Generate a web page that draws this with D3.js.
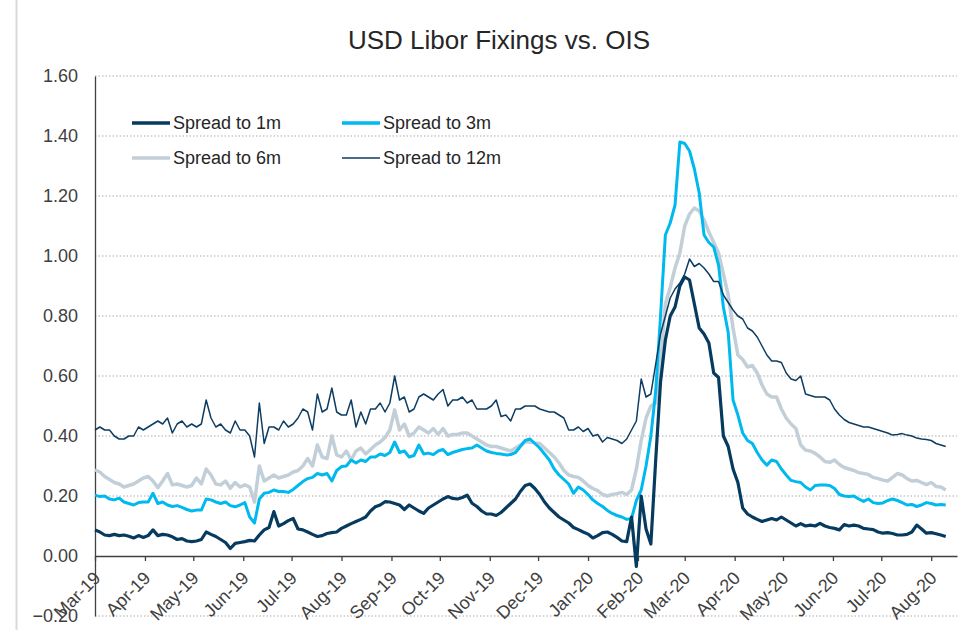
<!DOCTYPE html>
<html>
<head>
<meta charset="utf-8">
<script src="https://cdn.jsdelivr.net/npm/d3@7"></script>
<style>
  body { margin: 0; background: #fff; }
  svg { display: block; font-family: "Liberation Sans", Arial, sans-serif; }
</style>
</head>
<body>
<script>
const width = 967;
const height = 630;

const title = "USD Libor Fixings vs. OIS";
const seriesNames = ["Spread to 1m", "Spread to 3m", "Spread to 6m", "Spread to 12m"];
const yTicks = [-0.2, 0, 0.2, 0.4, 0.6, 0.8, 1.0, 1.2, 1.4, 1.6];

// one fixing every 3 days from 1 Mar 2019
const firstDay = "2019-03-01";
const stepDays = 3;

const spread1m = [
  0.087, 0.08, 0.07, 0.068, 0.072, 0.068, 0.07, 0.066, 0.06, 0.068,
  0.062, 0.068, 0.087, 0.068, 0.072, 0.07, 0.064, 0.055, 0.058, 0.05,
  0.048, 0.05, 0.055, 0.08, 0.072, 0.065, 0.055, 0.045, 0.025, 0.042,
  0.045, 0.048, 0.052, 0.05, 0.07, 0.087, 0.095, 0.148, 0.10, 0.108,
  0.118, 0.125, 0.09, 0.087, 0.08, 0.072, 0.065, 0.068, 0.075, 0.078,
  0.08, 0.092, 0.10, 0.108, 0.115, 0.122, 0.13, 0.15, 0.164, 0.17,
  0.181, 0.18, 0.175, 0.17, 0.155, 0.17, 0.16, 0.15, 0.142, 0.16,
  0.17, 0.18, 0.19, 0.198, 0.192, 0.19, 0.195, 0.203, 0.176, 0.165,
  0.15, 0.14, 0.14, 0.135, 0.145, 0.16, 0.175, 0.19, 0.215, 0.235,
  0.24, 0.225, 0.205, 0.18, 0.16, 0.145, 0.13, 0.12, 0.11, 0.095,
  0.088, 0.08, 0.073, 0.06, 0.068, 0.078, 0.08, 0.072, 0.062, 0.05,
  0.048, 0.13, -0.035, 0.20, 0.09, 0.04, 0.32, 0.58, 0.72, 0.80,
  0.83, 0.90, 0.93, 0.92, 0.84, 0.76, 0.74, 0.71, 0.61, 0.595,
  0.40, 0.365, 0.29, 0.245, 0.16, 0.14, 0.13, 0.122, 0.115, 0.12,
  0.125, 0.12, 0.13, 0.12, 0.11, 0.10, 0.108, 0.10, 0.103, 0.10,
  0.109, 0.10, 0.095, 0.092, 0.087, 0.105, 0.10, 0.103, 0.10, 0.092,
  0.09, 0.088, 0.08, 0.076, 0.078, 0.075, 0.07, 0.07, 0.072, 0.08,
  0.103, 0.09, 0.076, 0.078, 0.074, 0.07, 0.065
];

const spread3m = [
  0.203, 0.198, 0.20, 0.19, 0.187, 0.193, 0.18, 0.175, 0.17, 0.178,
  0.18, 0.18, 0.209, 0.175, 0.18, 0.17, 0.165, 0.168, 0.162, 0.155,
  0.15, 0.153, 0.153, 0.19, 0.187, 0.18, 0.175, 0.18, 0.168, 0.164,
  0.17, 0.178, 0.13, 0.11, 0.19, 0.209, 0.212, 0.22, 0.215, 0.215,
  0.212, 0.222, 0.235, 0.248, 0.258, 0.262, 0.275, 0.27, 0.275, 0.25,
  0.285, 0.298, 0.30, 0.32, 0.31, 0.32, 0.315, 0.33, 0.33, 0.34,
  0.335, 0.345, 0.38, 0.345, 0.35, 0.33, 0.335, 0.37, 0.34, 0.343,
  0.338, 0.35, 0.355, 0.338, 0.345, 0.35, 0.355, 0.358, 0.36, 0.37,
  0.36, 0.35, 0.345, 0.342, 0.34, 0.337, 0.338, 0.345, 0.365, 0.385,
  0.39, 0.375, 0.36, 0.34, 0.32, 0.29, 0.27, 0.255, 0.24, 0.209,
  0.23, 0.22, 0.205, 0.187, 0.175, 0.165, 0.152, 0.142, 0.135, 0.13,
  0.122, 0.125, 0.185, 0.22, 0.30, 0.40, 0.55, 0.80, 1.07, 1.11,
  1.17, 1.38, 1.375, 1.35, 1.29, 1.21, 1.07, 1.045, 1.03, 0.97,
  0.83, 0.745, 0.52, 0.47, 0.41, 0.385, 0.375, 0.345, 0.32, 0.303,
  0.32, 0.315, 0.29, 0.27, 0.252, 0.248, 0.245, 0.23, 0.22, 0.235,
  0.237, 0.237, 0.235, 0.225, 0.205, 0.20, 0.198, 0.20, 0.19, 0.182,
  0.19, 0.178, 0.175, 0.177, 0.185, 0.19, 0.185, 0.178, 0.17, 0.172,
  0.165, 0.17, 0.178, 0.175, 0.17, 0.172, 0.17
];

const spread6m = [
  0.287, 0.28, 0.265, 0.255, 0.245, 0.24, 0.23, 0.235, 0.24, 0.25,
  0.26, 0.265, 0.25, 0.228, 0.25, 0.275, 0.237, 0.24, 0.235, 0.23,
  0.235, 0.26, 0.24, 0.29, 0.27, 0.24, 0.237, 0.25, 0.226, 0.245,
  0.23, 0.237, 0.23, 0.18, 0.30, 0.25, 0.26, 0.27, 0.26, 0.265,
  0.27, 0.28, 0.285, 0.30, 0.325, 0.30, 0.37, 0.33, 0.325, 0.40,
  0.337, 0.33, 0.35, 0.32, 0.35, 0.36, 0.34, 0.355, 0.37, 0.38,
  0.395, 0.42, 0.487, 0.42, 0.44, 0.40, 0.41, 0.43, 0.42, 0.41,
  0.425, 0.405, 0.425, 0.40, 0.405, 0.405, 0.41, 0.41, 0.40, 0.39,
  0.38, 0.37, 0.365, 0.365, 0.36, 0.355, 0.35, 0.36, 0.37, 0.38,
  0.38, 0.377, 0.375, 0.36, 0.345, 0.33, 0.31, 0.285, 0.27, 0.265,
  0.262, 0.25, 0.235, 0.225, 0.218, 0.205, 0.20, 0.205, 0.208, 0.212,
  0.205, 0.22, 0.29, 0.385, 0.46, 0.50, 0.51, 0.64, 0.84, 0.895,
  0.96, 1.01, 1.10, 1.14, 1.16, 1.15, 1.12, 1.08, 1.045, 1.01,
  0.94, 0.87, 0.76, 0.67, 0.655, 0.63, 0.635, 0.61, 0.57, 0.54,
  0.53, 0.53, 0.49, 0.46, 0.44, 0.425, 0.37, 0.353, 0.35, 0.342,
  0.33, 0.315, 0.312, 0.32, 0.305, 0.295, 0.29, 0.285, 0.278, 0.275,
  0.272, 0.262, 0.258, 0.253, 0.25, 0.262, 0.275, 0.27, 0.258, 0.25,
  0.252, 0.245, 0.238, 0.245, 0.232, 0.23, 0.22
];

const spread12m = [
  0.42, 0.43, 0.42, 0.42, 0.40, 0.39, 0.39, 0.40, 0.40, 0.43,
  0.42, 0.43, 0.44, 0.45, 0.44, 0.46, 0.41, 0.44, 0.45, 0.43,
  0.44, 0.43, 0.44, 0.52, 0.46, 0.43, 0.44, 0.42, 0.41, 0.45,
  0.42, 0.42, 0.40, 0.33, 0.51, 0.375, 0.43, 0.43, 0.42, 0.45,
  0.43, 0.44, 0.46, 0.49, 0.48, 0.42, 0.54, 0.48, 0.49, 0.56,
  0.48, 0.47, 0.47, 0.52, 0.43, 0.48, 0.44, 0.49, 0.49, 0.51,
  0.48, 0.51, 0.60, 0.52, 0.53, 0.48, 0.49, 0.53, 0.54, 0.53,
  0.52, 0.54, 0.555, 0.50, 0.52, 0.52, 0.53, 0.51, 0.52, 0.49,
  0.49, 0.49, 0.50, 0.52, 0.465, 0.47, 0.45, 0.49, 0.49, 0.50,
  0.50, 0.50, 0.49, 0.485, 0.48, 0.48, 0.47, 0.46, 0.42, 0.42,
  0.43, 0.415, 0.425, 0.40, 0.405, 0.38, 0.395, 0.39, 0.385, 0.375,
  0.39, 0.42, 0.45, 0.59, 0.53, 0.54, 0.64, 0.74, 0.80, 0.86,
  0.89, 0.91, 0.94, 0.99, 0.965, 0.975, 0.96, 0.94, 0.915, 0.915,
  0.87, 0.845, 0.82, 0.80, 0.79, 0.76, 0.75, 0.73, 0.70, 0.67,
  0.65, 0.65, 0.645, 0.61, 0.59, 0.585, 0.60, 0.54, 0.535, 0.53,
  0.53, 0.53, 0.52, 0.49, 0.47, 0.455, 0.445, 0.44, 0.435, 0.43,
  0.43, 0.425, 0.42, 0.415, 0.41, 0.403, 0.405, 0.408, 0.403, 0.40,
  0.393, 0.39, 0.388, 0.385, 0.375, 0.37, 0.365
];

const start = d3.timeParse("%Y-%m-%d")(firstDay);
const dates = spread1m.map((d, i) => d3.timeDay.offset(start, i * stepDays));

const series = [
  { name: seriesNames[2], values: spread6m, color: "#c3cfd8", width: 3.5 },
  { name: seriesNames[1], values: spread3m, color: "#00b9ef", width: 3 },
  { name: seriesNames[3], values: spread12m, color: "#0d3d62", width: 1.5 },
  { name: seriesNames[0], values: spread1m, color: "#063a5e", width: 3.2 }
];

const svg = d3.select("body")
  .append("svg")
  .attr("width", width)
  .attr("height", height);

// frame edge
svg.append("line")
  .attr("x1", 16.5).attr("x2", 16.5)
  .attr("y1", 0).attr("y2", height)
  .attr("stroke", "#d9d9d9")
  .attr("stroke-width", 2);

const x = d3.scaleTime()
  .domain([start, new Date(2020, 7, 17)])
  .range([95, 957]);

const y = d3.scaleLinear()
  .domain([-0.2, 1.6])
  .range([616, 76]);

svg.append("text")
  .attr("x", 499)
  .attr("y", 49)
  .attr("text-anchor", "middle")
  .attr("font-size", 26)
  .attr("fill", "#262626")
  .text(title);

// dotted gridlines
svg.append("g")
  .selectAll("line")
  .data(yTicks.filter(t => t !== 0))
  .enter()
  .append("line")
  .attr("x1", 95)
  .attr("x2", 957)
  .attr("y1", d => y(d))
  .attr("y2", d => y(d))
  .attr("stroke", "#c8c8c8")
  .attr("stroke-width", 1.3)
  .attr("stroke-dasharray", "1.5,2");

const yAxis = d3.axisLeft(y)
  .tickValues(yTicks)
  .tickSize(0)
  .tickPadding(17)
  .tickFormat(d3.format(".2f"));

const gy = svg.append("g")
  .attr("transform", "translate(95,0)")
  .call(yAxis);
gy.select(".domain").attr("stroke", "#404040").attr("stroke-width", 1.3);
gy.selectAll("text").attr("font-size", 18).attr("fill", "#404040")
  .attr("font-family", "Liberation Sans, Arial, sans-serif");

const xAxis = d3.axisBottom(x)
  .ticks(d3.timeMonth.every(1))
  .tickSize(5)
  .tickSizeOuter(0)
  .tickFormat(d3.timeFormat("%b-%y"));

const gx = svg.append("g")
  .attr("transform", `translate(0,${y(0)})`)
  .call(xAxis);
gx.select(".domain").attr("stroke", "#404040").attr("stroke-width", 1.3);
gx.selectAll(".tick line").attr("stroke", "#404040").attr("stroke-width", 1.3);
gx.selectAll("text")
  .attr("font-size", 18)
  .attr("fill", "#404040")
  .attr("font-family", "Liberation Sans, Arial, sans-serif")
  .attr("text-anchor", "end")
  .attr("dy", "0.35em")
  .attr("transform", "translate(-4,13) rotate(-45)");

const line = d3.line()
  .x((d, i) => x(dates[i]))
  .y(d => y(d));

svg.append("g")
  .selectAll("path")
  .data(series)
  .enter()
  .append("path")
  .attr("fill", "none")
  .attr("stroke", d => d.color)
  .attr("stroke-width", d => d.width)
  .attr("stroke-linejoin", "round")
  .attr("d", d => line(d.values));

// Legend
const legendItems = [
  { name: seriesNames[0], color: "#063a5e", width: 3.5, col: 0, row: 0 },
  { name: seriesNames[1], color: "#00b9ef", width: 3.5, col: 1, row: 0 },
  { name: seriesNames[2], color: "#c3cfd8", width: 3.5, col: 0, row: 1 },
  { name: seriesNames[3], color: "#0d3d62", width: 1.5, col: 1, row: 1 }
];

const legend = svg.append("g")
  .attr("transform", "translate(132,123)");

const item = legend.selectAll("g")
  .data(legendItems)
  .enter()
  .append("g")
  .attr("transform", d => `translate(${d.col * 210},${d.row * 35})`);

item.append("line")
  .attr("x1", 0).attr("x2", 38)
  .attr("stroke", d => d.color)
  .attr("stroke-width", d => d.width);

item.append("text")
  .attr("x", 41)
  .attr("dy", "0.35em")
  .attr("font-size", 18)
  .attr("fill", "#262626")
  .text(d => d.name);
</script>
</body>
</html>
